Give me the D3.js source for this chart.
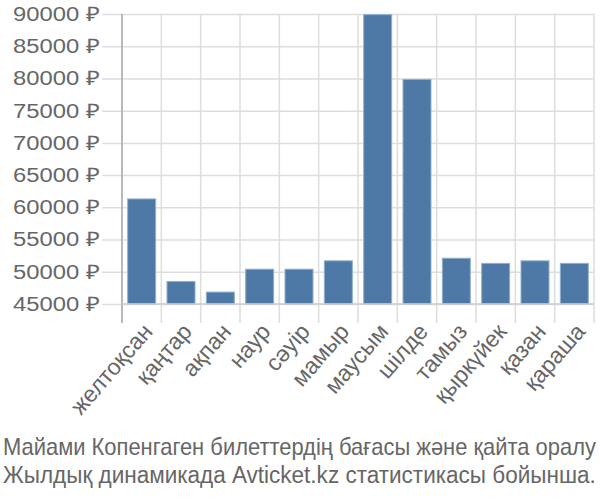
<!DOCTYPE html>
<html>
<head>
<meta charset="utf-8">
<script src="https://cdn.jsdelivr.net/npm/d3@7"></script>
<style>
  body { margin: 0; background: #fff; }
  text { font-family: "Liberation Sans", Arial, sans-serif; fill: #666; }
</style>
</head>
<body>
<div id="chart"></div>
<script>
// data
var months = ["желтоқсан", "қаңтар", "ақпан", "наур", "сәуір", "мамыр",
              "маусым", "шілде", "тамыз", "қыркүйек", "қазан", "қараша"];
var prices = [61300, 48500, 46850, 50400, 50400, 51700,
              89900, 79850, 52100, 51300, 51700, 51300];
var yTicks = [45000, 50000, 55000, 60000, 65000, 70000, 75000, 80000, 85000, 90000];
var titleLines = ["Майами Копенгаген билеттердің бағасы және қайта оралу",
                  "Жылдық динамикада Avticket.kz статистикасы бойынша."];

var margin = {top: 14, right: 6, bottom: 196, left: 122},
    width = 600 - margin.left - margin.right,
    height = 500 - margin.top - margin.bottom;

var svg = d3.select("#chart").append("svg")
    .attr("width", 600)
    .attr("height", 500);

var g = svg.append("g")
    .attr("transform", "translate(" + margin.left + "," + margin.top + ")");

var x = d3.scaleBand().domain(months).range([0, width]).paddingInner(0).paddingOuter(0);
var y = d3.scaleLinear().domain([45000, 90000]).range([height, 0]);

// horizontal grid + left ticks
var yAxis = g.append("g")
    .call(d3.axisLeft(y).tickValues(yTicks).tickSize(-width)
      .tickFormat(function(d) { return d + " ₽"; }));
yAxis.select(".domain").remove();
yAxis.selectAll(".tick line").attr("stroke", "#ddd").attr("stroke-width", 1.5)
    .attr("x1", -20);
yAxis.selectAll(".tick text").attr("font-size", 20).attr("fill", "#666")
    .attr("x", -22)
    .attr("textLength", 87)
    .attr("lengthAdjust", "spacingAndGlyphs");

// vertical grid at band edges
var edges = months.map(function(m) { return x(m); }).concat([width]);
g.selectAll(".vgrid").data(edges).enter().append("line")
    .attr("class", "vgrid")
    .attr("x1", function(d) { return d; })
    .attr("x2", function(d) { return d; })
    .attr("y1", 0)
    .attr("y2", height + 19)
    .attr("stroke", "#ddd")
    .attr("stroke-width", 1.5);

// left axis line
g.append("line")
    .attr("x1", 0).attr("x2", 0)
    .attr("y1", 0).attr("y2", height + 19)
    .attr("stroke", "#aaa").attr("stroke-width", 1.5);

// bars
var barW = 28;
g.selectAll(".bar").data(prices).enter().append("rect")
    .attr("class", "bar")
    .attr("x", function(d, i) { return x(months[i]) + (x.bandwidth() - barW) / 2; })
    .attr("width", barW)
    .attr("y", function(d) { return y(d); })
    .attr("height", function(d) { return height - y(d); })
    .attr("fill", "#4e79a7")
    .attr("stroke", "#8fb0d0")
    .attr("stroke-width", 1);

// baseline
g.append("line")
    .attr("x1", 0).attr("x2", width)
    .attr("y1", height).attr("y2", height)
    .attr("stroke", "#ccc").attr("stroke-width", 1.5);

// x labels
var xAxis = g.append("g")
    .attr("transform", "translate(0," + height + ")")
    .call(d3.axisBottom(x).tickSize(0));
xAxis.select(".domain").remove();
xAxis.selectAll(".tick text")
    .attr("font-size", 23)
    .attr("fill", "#666")
    .attr("text-anchor", "end")
    .attr("dy", "0.35em")
    .attr("transform", "translate(6,23) rotate(-49)")
    .attr("y", 0)
    .attr("x", 0);

// caption, squeezed horizontally to fit the width
svg.selectAll(".caption").data(titleLines).enter().append("text")
    .attr("class", "caption")
    .attr("font-size", 23)
    .attr("fill", "#666")
    .text(function(d) { return d; })
    .attr("transform", function(d, i) {
      var len = this.getComputedTextLength();
      return "translate(3," + (455 + i * 28) + ") scale(" + (593 / len) + ",1)";
    });
</script>
</body>
</html>
